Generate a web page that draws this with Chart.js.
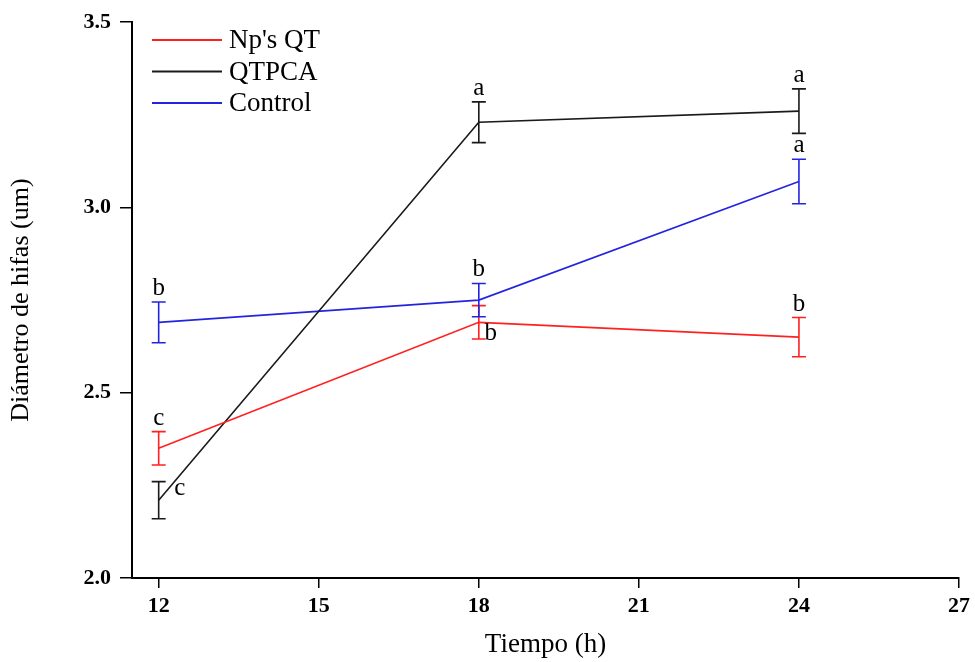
<!DOCTYPE html>
<html><head><meta charset="utf-8">
<script src="https://cdn.jsdelivr.net/npm/chart.js@4"></script>
<style>html,body{margin:0;padding:0;background:#fff}#wrap{width:975px;height:662px;position:relative}</style>
</head><body><div id="wrap"><canvas id="c"></canvas></div>
<script>
// ---- data ----
const hours = [12, 18, 24];
const seriesNames = ["Np's QT", "QTPCA", "Control"];
const npsQT = [2.35, 2.69, 2.65];
const npsQTErr = [0.045, 0.045, 0.053];
const qtpca = [2.21, 3.23, 3.26];
const qtpcaErr = [0.05, 0.055, 0.06];
const control = [2.69, 2.75, 3.07];
const controlErr = [0.055, 0.045, 0.06];
const npsQTLetters = ['c', 'b', 'b'];
const qtpcaLetters = ['c', 'a', 'a'];
const controlLetters = ['b', 'b', 'a'];
const xTicks = [12, 15, 18, 21, 24, 27];
const yTicks = [2.0, 2.5, 3.0, 3.5];
const xTitle = 'Tiempo (h)';
const yTitle = 'Diámetro de hifas (um)';

// ---- styles ----
const colors = ['#ff2020', '#1a1a1a', '#2424e0'];
const letterPlacement = [
  ['above', 'belowRight', 'above'],
  ['right', 'above', 'above'],
  ['above', 'above', 'above']
];
const FONT = "'Liberation Serif', 'Times New Roman', serif";

const values = [npsQT, qtpca, control];
const errs = [npsQTErr, qtpcaErr, controlErr];
const letters = [npsQTLetters, qtpcaLetters, controlLetters];

const datasets = seriesNames.map((name, i) => ({
  label: name,
  data: hours.map((h, j) => ({x: h, y: values[i][j]})),
  errors: errs[i],
  letters: letters[i],
  placement: letterPlacement[i],
  borderColor: colors[i],
  backgroundColor: colors[i],
  borderWidth: 1.6,
  showLine: true,
  pointRadius: 0,
  tension: 0,
  clip: false
}));

const errorBars = {
  id: 'errorBars',
  afterDatasetsDraw(chart) {
    const ctx = chart.ctx;
    const xs = chart.scales.x, ys = chart.scales.y;
    chart.data.datasets.forEach(ds => {
      ctx.save();
      ctx.strokeStyle = ds.borderColor;
      ctx.lineWidth = 1.6;
      ds.data.forEach((p, j) => {
        const px = xs.getPixelForValue(p.x);
        const top = ys.getPixelForValue(p.y + ds.errors[j]);
        const bot = ys.getPixelForValue(p.y - ds.errors[j]);
        ctx.beginPath();
        ctx.moveTo(px, top); ctx.lineTo(px, bot);
        ctx.moveTo(px - 7, top); ctx.lineTo(px + 7, top);
        ctx.moveTo(px - 7, bot); ctx.lineTo(px + 7, bot);
        ctx.stroke();
        // letters
        ctx.fillStyle = '#000';
        ctx.font = "25px " + FONT;
        ctx.textAlign = 'center';
        ctx.textBaseline = 'alphabetic';
        const py = ys.getPixelForValue(p.y);
        const pl = ds.placement[j];
        let lx = px, ly = top - 7;
        if (pl === 'right') { lx = px + 21; ly = py - 5; }
        else if (pl === 'belowRight') { lx = px + 12; ly = py + 18; }
        ctx.fillText(ds.letters[j], lx, ly);
      });
      ctx.restore();
    });
  }
};

const insideLegend = {
  id: 'insideLegend',
  afterDraw(chart) {
    const ctx = chart.ctx;
    ctx.save();
    chart.data.datasets.forEach((ds, i) => {
      const y = 40 + i * 31.5;
      ctx.strokeStyle = ds.borderColor;
      ctx.lineWidth = 2;
      ctx.beginPath();
      ctx.moveTo(152, y); ctx.lineTo(222, y);
      ctx.stroke();
      ctx.fillStyle = '#000';
      ctx.font = "27px " + FONT;
      ctx.textAlign = 'left';
      ctx.textBaseline = 'middle';
      ctx.fillText(ds.label, 229, y + 1);
    });
    ctx.restore();
  }
};

Chart.defaults.color = '#000';
Chart.defaults.font.family = FONT;

new Chart(document.getElementById('c'), {
  type: 'scatter',
  data: {datasets},
  options: {
    responsive: true,
    maintainAspectRatio: false,
    animation: false,
    layout: {padding: {top: 17, right: 16, left: 0, bottom: 0}},
    plugins: {legend: {display: false}, tooltip: {enabled: false}},
    scales: {
      x: {
        type: 'linear',
        min: 11.5, max: 27,
        afterBuildTicks: s => { s.ticks = xTicks.map(v => ({value: v})); },
        afterFit: s => { s.height = 84; },
        ticks: {font: {size: 22, weight: 'bold'}, padding: 5, maxRotation: 0,
                callback: v => String(v)},
        grid: {drawOnChartArea: false, drawTicks: true, tickLength: 10, color: '#000', lineWidth: 1.5},
        border: {display: true, color: '#000', width: 2},
        title: {display: true, text: xTitle, font: {size: 27}, padding: {top: 0, bottom: 1}}
      },
      y: {
        type: 'linear',
        min: 2.0, max: 3.5,
        afterBuildTicks: s => { s.ticks = yTicks.map(v => ({value: v})); },
        afterFit: s => { s.width = 132; },
        ticks: {font: {size: 22, weight: 'bold'}, padding: 9,
                callback: v => Number(v).toFixed(1)},
        grid: {drawOnChartArea: false, drawTicks: true, tickLength: 12, color: '#000', lineWidth: 1.5},
        border: {display: true, color: '#000', width: 2},
        title: {display: true, text: yTitle, font: {size: 26}, padding: {top: 6, bottom: 0}}
      }
    }
  },
  plugins: [errorBars, insideLegend]
});
</script>
</body></html>
